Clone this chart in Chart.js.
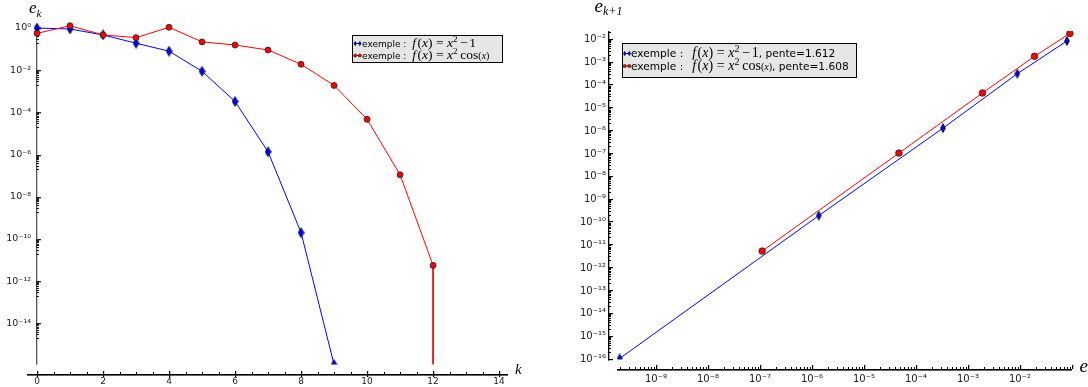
<!DOCTYPE html>
<html><head><meta charset="utf-8">
<script src="https://cdn.jsdelivr.net/npm/chart.js@4.4.1/dist/chart.umd.min.js"></script>
<style>
html,body{margin:0;padding:0;background:#fff;width:1088px;height:387px;overflow:hidden}
#wl{position:absolute;left:0;top:0;width:544px;height:387px}
#wr{position:absolute;left:544px;top:0;width:544px;height:387px}
canvas{display:block}
</style></head><body>
<div id="wl"><canvas id="cl" width="544" height="387"></canvas></div>
<div id="wr"><canvas id="cr" width="544" height="387"></canvas></div>
<script>
// ---------------- data ----------------
const kBlue   = [0,1,2,3,4,5,6,7,8,9];
const errBlue = [1.0,0.9,0.47,0.19,0.08,0.0089,3.3e-4,1.35e-6,2.0e-10,1.11e-16];
const kRed    = [0,1,2,3,4,5,6,7,8,9,10,11,12,12];
const errRed  = [0.56,1.28,0.47,0.35,1.08,0.22,0.156,0.091,0.019,1.9e-3,4.7e-5,1.1e-7,5.6e-12,0];
// indices k used for the (e_k, e_k+1) plot
const pairsBlue = [4,5,6,7,8];
const pairsRed  = [7,8,9,10,11];
const slopeBlue = '1.612';
const slopeRed  = '1.608';
const seriesNames = ['exemple : f(x)=x²−1', 'exemple : f(x)=x² cos(x)'];
// ticks
const leftXTicks  = [0,2,4,6,8,10,12,14];
const leftYTicks  = [1e0,1e-2,1e-4,1e-6,1e-8,1e-10,1e-12,1e-14];
const rightXTicks = [1e-9,1e-8,1e-7,1e-6,1e-5,1e-4,1e-3,1e-2];
const rightYTicks = [1e-16,1e-15,1e-14,1e-13,1e-12,1e-11,1e-10,1e-9,1e-8,1e-7,1e-6,1e-5,1e-4,1e-3,1e-2];
// axis ranges
const leftXMin = 0, leftXMax = 14.27, leftYMin = 1.11e-16, leftYMax = 1.39;
const rightXMin = 1.78e-10, rightXMax = 0.1, rightYMin = 1e-16, rightYMax = 0.0243;

// ---------------- helpers ----------------
const SANS = '"DejaVu Sans", sans-serif';
const SERIF = '"Liberation Serif", serif';
const SUP = {'-':'⁻','0':'⁰','1':'¹','2':'²','3':'³','4':'⁴','5':'⁵','6':'⁶','7':'⁷','8':'⁸','9':'⁹'};
function pow10Label(v){
  const e = Math.round(Math.log10(v));
  return '10' + String(e).split('').map(c => SUP[c]).join('');
}
function thinDiamond(w,h){
  const c = document.createElement('canvas'); c.width = w; c.height = h;
  const g = c.getContext('2d');
  g.beginPath(); g.moveTo(w/2,0.6); g.lineTo(w-0.6,h/2); g.lineTo(w/2,h-0.6); g.lineTo(0.6,h/2); g.closePath();
  g.fillStyle = '#0000ff'; g.fill(); g.strokeStyle = '#000'; g.lineWidth = 0.8; g.stroke();
  return c;
}
function hline(ctx,x1,x2,y,t){ ctx.fillRect(Math.min(x1,x2), y, Math.abs(x2-x1), t||1); }
function vline(ctx,x,y1,y2,t){ ctx.fillRect(x, Math.min(y1,y2), t||1, Math.abs(y2-y1)); }
function rich(ctx,x,y,segs){
  for (const s of segs){ x += (s.pre||0); ctx.font = s.f; ctx.fillText(s.t, x, y + (s.dy||0)); x += ctx.measureText(s.t).width + (s.sp||0); }
  return x;
}
function formula(size, which){
  const it = `italic ${size}px ${SERIF}`, rm = `${size}px ${SERIF}`;
  const sup = `${Math.round(size*0.68)}px ${SERIF}`;
  const sm = `${Math.round(size*0.72)}px ${SERIF}`, smit = `italic ${Math.round(size*0.72)}px ${SERIF}`;
  const g = size*0.26;
  const s = [{t:'f',f:it,sp:1.4},{t:'(',f:rm},{t:'x',f:it},{t:')',f:rm,sp:g},{t:'=',f:rm,sp:g},{t:'x',f:it},{t:'2',f:sup,dy:-size*0.36,sp:g*0.8}];
  if (which === 0) s.push({t:'−',f:rm,sp:g*0.4},{t:'1',f:rm});
  else s.push({t:'cos',f:rm},{t:'(',f:sm},{t:'x',f:smit},{t:')',f:sm});
  return s;
}
function legendIcon(ctx,x,y,w,which){
  const col = which === 0 ? '#0000ff' : '#ff0000';
  ctx.fillStyle = col; ctx.fillRect(x, y-0.5, w, 1);
  for (const px of [x+1.2,x+w-1.2]){
    ctx.beginPath();
    if (which === 0){ ctx.moveTo(px,y-2.2); ctx.lineTo(px+1.3,y); ctx.lineTo(px,y+2.2); ctx.lineTo(px-1.3,y); ctx.closePath(); }
    else ctx.arc(px,y,1.6,0,Math.PI*2);
    ctx.fillStyle = col; ctx.fill(); ctx.strokeStyle='#000'; ctx.lineWidth=0.5; ctx.stroke();
  }
}
const redFill = '#ff0000', blueLine = '#0000ff', redLine = '#ff0000';

// ---------------- left chart ----------------
const leftDeco = {
  id: 'leftDeco',
  beforeDatasetsDraw(chart){
    const {ctx, chartArea:a, scales:{x,y}} = chart;
    ctx.save();
    const ax = Math.round(x.getPixelForValue(0)) - 1;
    ctx.fillStyle = '#555';
    vline(ctx, ax, a.top, a.bottom, 1.3);
    ctx.fillStyle = '#222';
    for (const v of leftYTicks){
      hline(ctx, ax, ax+5, Math.round(y.getPixelForValue(v)), 1.3);
      for (let m = 2; m <= 9; m++) hline(ctx, ax, ax+3, Math.round(y.getPixelForValue(m*v/10)));
    }
    ctx.restore();
  },
  afterDraw(chart){
    const {ctx, chartArea:a, scales:{x}} = chart;
    ctx.save();
    // x axis (detached, below the plot)
    const ay = Math.round(a.bottom + 9);
    ctx.fillStyle = '#000';
    hline(ctx, a.left - 10, a.right, ay, 1.6);
    for (let v = 0; v <= 14; v += 0.5){
      const px = Math.round(x.getPixelForValue(v));
      if (v % 2 === 0) vline(ctx, px, ay-3, ay+3, 1.2);
      else vline(ctx, px, ay-2, ay);
    }
    ctx.textBaseline = 'alphabetic';
    // axis titles
    rich(ctx, 29, 13, [{t:'e', f:`italic 17px ${SERIF}`}]);
    rich(ctx, 36.5, 17, [{t:'k', f:`italic 11px ${SERIF}`}]);
    rich(ctx, 515, 374, [{t:'k', f:`italic 15px ${SERIF}`}]);
    // legend
    ctx.fillStyle = '#e6e6e6'; ctx.fillRect(352.5, 35.5, 150, 27);
    ctx.strokeStyle = '#000'; ctx.lineWidth = 1; ctx.strokeRect(352.5, 35.5, 150, 27);
    const rows = [43.5, 55.5];
    for (let i = 0; i < 2; i++){
      legendIcon(ctx, 354, rows[i], 7, i);
      ctx.fillStyle = '#000';
      const xx = rich(ctx, 362, rows[i]+3.2, [{t:'exemple : ', f:`9px ${SANS}`}]);
      rich(ctx, xx+3, rows[i]+3.6, formula(13.5, i));
    }
    ctx.restore();
  }
};

const diamondL = thinDiamond(7,11);
new Chart(document.getElementById('cl'), {
  type: 'line',
  data: {
    datasets: [
      { label: seriesNames[1], data: kRed.map((k,i) => ({x:k, y: errRed[i] > 0 ? errRed[i] : leftYMin})),
        borderColor: redLine, borderWidth: 1, backgroundColor: redFill, pointBackgroundColor: redFill,
        pointBorderColor: '#222', pointBorderWidth: 0.8, pointRadius: errRed.map(v => v > 0 ? 3 : 0),
        pointStyle: 'circle', tension: 0, clip: {left:10, top:10, right:10, bottom:0} },
      { label: seriesNames[0], data: kBlue.map((k,i) => ({x:k, y: errBlue[i]})),
        borderColor: blueLine, borderWidth: 1, pointStyle: diamondL, pointRadius: 3,
        tension: 0, clip: {left:10, top:10, right:10, bottom:0} }
    ]
  },
  options: {
    responsive: false, animation: false, devicePixelRatio: 1,
    layout: { padding: {top:25, right:36, left:0, bottom:0} },
    plugins: { legend: {display:false}, tooltip: {enabled:false} },
    scales: {
      x: { type:'linear', min:leftXMin, max:leftXMax,
        grid:{display:false, drawTicks:false}, border:{display:false},
        afterBuildTicks: s => { s.ticks = leftXTicks.map(v => ({value:v})); },
        afterFit: s => { s.height = 22.4; },
        ticks: { font:{family:SANS, size:9}, color:'#222', padding:12, autoSkip:false, maxRotation:0, includeBounds:false,
          callback: v => String(v) } },
      y: { type:'logarithmic', min:leftYMin, max:leftYMax,
        grid:{display:false, drawTicks:false}, border:{display:false},
        afterBuildTicks: s => { s.ticks = leftYTicks.map(v => ({value:v})); },
        afterFit: s => { s.width = 37; },
        ticks: { font:{family:SANS, size:9.5}, color:'#222', padding:6, autoSkip:false,
          callback: v => pow10Label(v) } }
    }
  },
  plugins: [leftDeco]
});

// ---------------- right chart ----------------
const rightDeco = {
  id: 'rightDeco',
  beforeDatasetsDraw(chart){
    const {ctx, chartArea:a, scales:{y}} = chart;
    ctx.save(); ctx.fillStyle = '#000';
    const ax = Math.round(a.left - 9);
    vline(ctx, ax, a.top, a.bottom + 1, 1.3);
    for (let d = -16; d <= -2; d++){
      const v = Math.pow(10, d);
      hline(ctx, ax, ax+5, Math.round(y.getPixelForValue(v)) - 1, 1.2);
      for (let m = 2; m <= 9; m++){
        const vm = m*v; if (vm > rightYMax) break;
        hline(ctx, ax, ax+3, Math.round(y.getPixelForValue(vm)) - 1);
      }
    }
    ctx.restore();
  },
  afterDraw(chart){
    const {ctx, chartArea:a, scales:{x}} = chart;
    ctx.save();
    ctx.fillStyle = '#000';
    const ay = Math.round(a.bottom + 9);
    hline(ctx, a.left, a.right, ay, 1.6);
    for (let d = -10; d <= -1; d++){
      const v = Math.pow(10, d);
      if (v >= rightXMin && v <= rightXMax*1.0001) vline(ctx, Math.round(x.getPixelForValue(v)), ay-4, ay, 1.2);
      for (let m = 2; m <= 9; m++){
        const vm = m*v; if (vm < rightXMin || vm > rightXMax) continue;
        vline(ctx, Math.round(x.getPixelForValue(vm)), ay-2, ay);
      }
    }
    ctx.textBaseline = 'alphabetic';
    rich(ctx, 50.5, 12, [{t:'e', f:`italic 19px ${SERIF}`}]);
    rich(ctx, 59, 15, [{t:'k+1', f:`italic 12px ${SERIF}`}]);
    rich(ctx, 535.5, 372, [{t:'e', f:`italic 19px ${SERIF}`}]);
    rich(ctx, 545, 376, [{t:'k', f:`italic 12px ${SERIF}`}]);
    // legend
    ctx.fillStyle = '#e6e6e6'; ctx.fillRect(78.5, 43.5, 234, 34);
    ctx.strokeStyle = '#000'; ctx.lineWidth = 1; ctx.strokeRect(78.5, 43.5, 234, 34);
    const rows = [53.5, 66];
    const slopes = [slopeBlue, slopeRed];
    for (let i = 0; i < 2; i++){
      legendIcon(ctx, 79.5, rows[i], 7, i);
      ctx.fillStyle = '#000';
      let xx = rich(ctx, 87, rows[i]+3.7, [{t:'exemple :', f:`10.6px ${SANS}`}]);
      xx = rich(ctx, xx+9, rows[i]+3.9, formula(14, i));
      rich(ctx, xx, rows[i]+3.7, [{t:', pente=' + slopes[i], f:`10.6px ${SANS}`}]);
    }
    ctx.restore();
  }
};

const diamondR = thinDiamond(6,10);
new Chart(document.getElementById('cr'), {
  type: 'line',
  data: {
    datasets: [
      { label: seriesNames[1] + ', pente=' + slopeRed,
        data: pairsRed.map(k => ({x: errRed[k], y: errRed[k+1]})),
        borderColor: redLine, borderWidth: 1, backgroundColor: redFill, pointBackgroundColor: redFill,
        pointBorderColor: '#222', pointBorderWidth: 0.8, pointRadius: 3.3, pointStyle: 'circle',
        tension: 0, clip: {left:10, top:0, right:10, bottom:0} },
      { label: seriesNames[0] + ', pente=' + slopeBlue,
        data: pairsBlue.map(k => ({x: errBlue[k], y: errBlue[k+1]})),
        borderColor: blueLine, borderWidth: 1, pointStyle: diamondR, pointRadius: 3,
        tension: 0, clip: {left:10, top:0, right:10, bottom:0} }
    ]
  },
  options: {
    responsive: false, animation: false, devicePixelRatio: 1,
    layout: { padding: {top:31, right:16, left:0, bottom:0} },
    plugins: { legend: {display:false}, tooltip: {enabled:false} },
    scales: {
      x: { type:'logarithmic', min:rightXMin, max:rightXMax,
        grid:{display:false, drawTicks:false}, border:{display:false},
        afterBuildTicks: s => { s.ticks = rightXTicks.map(v => ({value:v})); },
        afterFit: s => { s.height = 27.5; },
        ticks: { font:{family:SANS, size:10}, color:'#222', padding:14, autoSkip:false, maxRotation:0,
          callback: v => pow10Label(v) } },
      y: { type:'logarithmic', min:rightYMin, max:rightYMax,
        grid:{display:false, drawTicks:false}, border:{display:false},
        afterBuildTicks: s => { s.ticks = rightYTicks.map(v => ({value:v})); },
        afterFit: s => { s.width = 73; },
        ticks: { font:{family:SANS, size:10}, color:'#222', padding:11, autoSkip:false,
          callback: v => pow10Label(v) } }
    }
  },
  plugins: [rightDeco]
});
</script>
</body></html>
